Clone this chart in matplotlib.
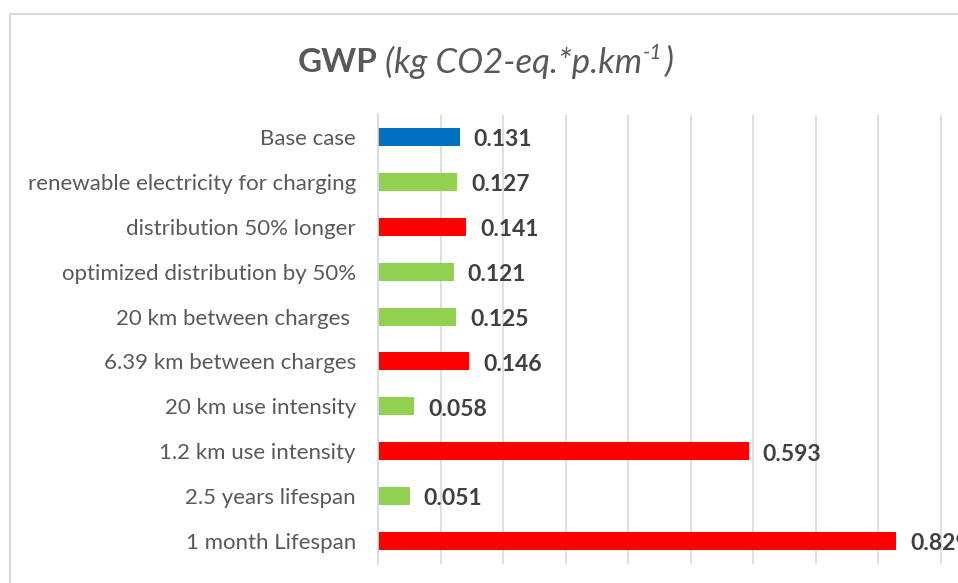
import matplotlib.pyplot as plt
from matplotlib.patches import Rectangle

categories = [
    "Base case",
    "renewable electricity for charging",
    "distribution 50% longer",
    "optimized distribution by 50%",
    "20 km between charges ",
    "6.39 km between charges",
    "20 km use intensity",
    "1.2 km use intensity",
    "2.5 years lifespan",
    "1 month Lifespan",
]
values = [0.131, 0.127, 0.141, 0.121, 0.125, 0.146, 0.058, 0.593, 0.051, 0.829]
colors = ["#0070C0", "#92D050", "#FF0000", "#92D050", "#92D050",
          "#FF0000", "#92D050", "#FF0000", "#92D050", "#FF0000"]

plt.rcParams['font.family'] = ['Lato', 'DejaVu Sans']

W, H = 958, 583
fig = plt.figure(figsize=(W / 100, H / 100), dpi=100)

# chart area border (Excel style), partly cropped on the right/bottom
fig.patches.append(Rectangle((10 / W, -0.05), 1.2, 1 - 14 / H + 0.05,
                             transform=fig.transFigure, fill=False,
                             edgecolor="#d9d9d9", linewidth=1.5))

ax = fig.add_axes([378 / W, 1 - 563.5 / H, 625 / W, 449 / H])
ypos = list(range(len(categories)))
ax.barh(ypos, values, height=0.4, color=colors)
ax.set_ylim(len(categories) - 0.5, -0.5)
ax.set_xlim(0, 1.0)
ax.set_xticks([i / 10 for i in range(11)])
ax.tick_params(axis='x', bottom=False, labelbottom=False)
ax.set_yticks(ypos)
ax.set_yticklabels(categories, fontsize=16, color="#595959")
ax.tick_params(axis='y', length=0, pad=16)
ax.grid(axis='x', color="#d9d9d9", linewidth=1.2)
ax.set_axisbelow(True)
for s in ['top', 'right', 'bottom']:
    ax.spines[s].set_visible(False)
ax.spines['left'].set_color("#d9d9d9")
ax.spines['left'].set_linewidth(1.2)

for y, v in zip(ypos, values):
    ax.annotate(f"{v:.3f}", (v, y), xytext=(10, -2), textcoords='offset points',
                ha='left', va='center', fontsize=16.5, fontweight='bold',
                color="#404040", annotation_clip=False)

# title: bold "GWP" + italic unit with a small raised "-1"
ty = 1 - 62 / H
fig.text(298 / W, ty, "GWP", fontsize=24, fontweight='bold',
         color="#595959", ha='left', va='center')
t1 = fig.text(385 / W, ty, "(kg CO2-eq.*p.km", fontsize=25,
              style='italic', color="#595959", ha='left', va='center')
r = fig.canvas.get_renderer()
x1 = t1.get_window_extent(r).x1 / W
t2 = fig.text(x1 + 1 / W, ty + 9 / H, "-1", fontsize=15,
              style='italic', color="#595959", ha='left', va='center')
x2 = t2.get_window_extent(r).x1 / W
fig.text(x2 + 2 / W, ty, ")", fontsize=25,
         style='italic', color="#595959", ha='left', va='center')

fig.savefig("out.png", dpi=100)
